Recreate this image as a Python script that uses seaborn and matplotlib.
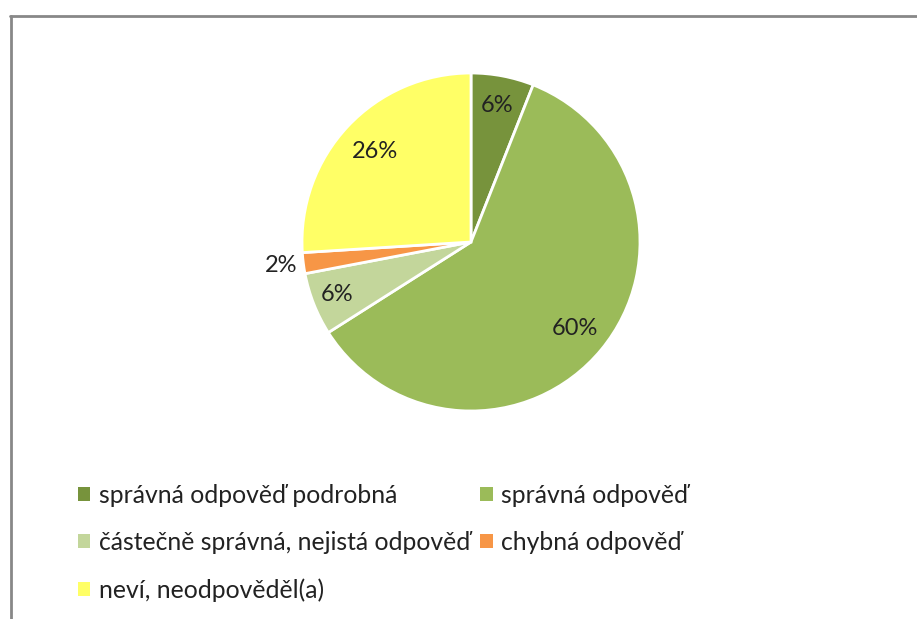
import numpy as np
import seaborn as sns
import matplotlib.pyplot as plt
from matplotlib.lines import Line2D
from matplotlib.patches import Patch

categories = ['správná odpověď podrobná', 'správná odpověď',
              'částečně správná, nejistá odpověď', 'chybná odpověď',
              'neví, neodpověděl(a)']
shares = [6, 60, 6, 2, 26]
pct_labels = ['6%', '60%', '6%', '2%', '26%']
colors = ['#77933C', '#9BBB59', '#C3D69B', '#F79646', '#FFFF66']

sns.set_theme(style='white')
plt.rcParams['font.family'] = ['Lato', 'DejaVu Sans']

fig = plt.figure(figsize=(9.17, 6.19), dpi=100)
W, H = 917, 619
cx, cy, r = 471, 242, 169
ax = fig.add_axes([(cx - r) / W, (H - cy - r) / H, 2 * r / W, 2 * r / H])
ax.pie(shares, colors=colors, startangle=90, counterclock=False, radius=1,
       wedgeprops=dict(edgecolor='white', linewidth=2))
ax.set_xlim(-1, 1)
ax.set_ylim(-1, 1)
ax.axis('off')

# label placement along each slice's middle angle
dist = [0.82, 0.80, 0.85, 1.13, 0.78]
cum = np.cumsum([0] + shares[:-1])
for s, c, lab, d in zip(shares, cum, pct_labels, dist):
    ang = np.deg2rad(90 - (c + s / 2) / sum(shares) * 360)
    ax.text(d * np.cos(ang), d * np.sin(ang), lab, ha='center', va='center',
            fontsize=17, color='#222222')

# row-major legend: reorder so two columns read left to right
order = [0, 2, 4, 1, 3]
handles = [Patch(facecolor=colors[i], edgecolor='none') for i in order]
fig.legend(handles, [categories[i] for i in order], ncol=2,
           loc='upper left', bbox_to_anchor=(78 / W, 1 - 484 / H),
           frameon=False, fontsize=17.8, handlelength=0.5, handleheight=0.5,
           handletextpad=0.35, labelspacing=0.97, columnspacing=0.4,
           borderaxespad=0, borderpad=0, labelcolor='#222222')

fig.add_artist(Line2D([10 / W, 1], [1 - 15.5 / H] * 2, color='#888888', lw=2,
                      transform=fig.transFigure))
fig.add_artist(Line2D([10.5 / W] * 2, [0, 1 - 15.5 / H], color='#888888', lw=2,
                      transform=fig.transFigure))

fig.savefig('out.png', dpi=100)
